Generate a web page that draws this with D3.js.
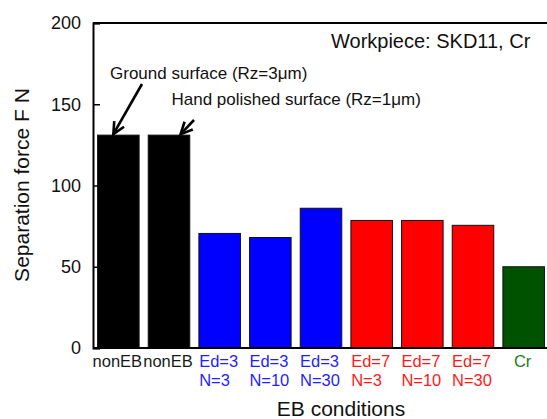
<!DOCTYPE html>
<html>
<head>
<meta charset="utf-8">
<script src="https://cdn.jsdelivr.net/npm/d3@7"></script>
<style>
  html, body { margin: 0; padding: 0; background: #fff; }
  svg { display: block; font-family: "Liberation Sans", Arial, sans-serif; }
</style>
</head>
<body>
<svg id="chart" width="547" height="419"></svg>
<script>
// Separation force for each EB (electron beam) condition
const categories = ["nonEB-G", "nonEB-H", "Ed3N3", "Ed3N10", "Ed3N30", "Ed7N3", "Ed7N10", "Ed7N30", "Cr"];
const labelLines = [["nonEB"], ["nonEB"], ["Ed=3", "N=3"], ["Ed=3", "N=10"], ["Ed=3", "N=30"],
                    ["Ed=7", "N=3"], ["Ed=7", "N=10"], ["Ed=7", "N=30"], ["Cr"]];
const forces = [131, 131, 70.5, 68, 86, 78.5, 78.5, 75.5, 50];
const groups = ["none", "none", "ed3", "ed3", "ed3", "ed7", "ed7", "ed7", "cr"];
const yTicks = [0, 50, 100, 150, 200];

const barColor = { none: "#000000", ed3: "#0000ff", ed7: "#ff0000", cr: "#005200" };
const textColor = { none: "#1a1a1a", ed3: "#1f1fff", ed7: "#ff1a1a", cr: "#1d7a1d" };

const svg = d3.select("#chart");
const plotLeft = 93, plotRight = 549, plotTop = 23, plotBottom = 348;

const x = d3.scaleBand().domain(categories).range([plotLeft, plotRight])
  .paddingInner(0.18).paddingOuter(0.09);
const y = d3.scaleLinear().domain([0, 200]).range([plotBottom, plotTop]);

// bars
svg.append("g").selectAll("rect").data(categories).join("rect")
  .attr("x", d => x(d))
  .attr("y", (d, i) => y(forces[i]))
  .attr("width", x.bandwidth())
  .attr("height", (d, i) => y(0) - y(forces[i]))
  .attr("fill", (d, i) => barColor[groups[i]])
  .attr("stroke", "#111")
  .attr("stroke-width", 1);

// frame: left axis, top and bottom lines
svg.append("line").attr("x1", plotLeft).attr("x2", 547).attr("y1", plotTop).attr("y2", plotTop)
  .attr("stroke", "#000").attr("stroke-width", 2);
svg.append("line").attr("x1", plotLeft).attr("x2", 547).attr("y1", plotBottom).attr("y2", plotBottom)
  .attr("stroke", "#000").attr("stroke-width", 2);

const yAxis = svg.append("g").attr("transform", `translate(${plotLeft},0)`)
  .call(d3.axisLeft(y).tickValues(yTicks).tickSize(-7).tickPadding(12));
yAxis.select(".domain").attr("stroke-width", 2);
yAxis.selectAll(".tick line").attr("stroke-width", 1.5);
yAxis.selectAll(".tick text")
  .attr("font-size", 18).attr("fill", "#111")
  .attr("font-family", "Liberation Sans, Arial, sans-serif");

// category labels under bars: block centred on the bar, lines left aligned
const lab = svg.append("g").attr("font-size", 16.5);
categories.forEach((c, i) => {
  const t = lab.append("text").attr("fill", textColor[groups[i]]);
  const spans = labelLines[i].map((s, k) =>
    t.append("tspan").attr("y", 366.5 + k * 19).text(s));
  const w = d3.max(spans, s => s.node().getComputedTextLength());
  const x0 = x(c) + x.bandwidth() / 2 - w / 2 - 1;
  spans.forEach(s => s.attr("x", x0));
});

// axis titles
svg.append("text").attr("x", 341).attr("y", 415.5).attr("text-anchor", "middle")
  .attr("font-size", 21).attr("fill", "#111").text("EB conditions");
svg.append("text").attr("transform", "translate(28.5,185) rotate(-90)")
  .attr("text-anchor", "middle").attr("font-size", 21).attr("fill", "#111")
  .text("Separation force F N");

// annotation
svg.append("text").attr("x", 331).attr("y", 48).attr("font-size", 20).attr("fill", "#111")
  .text("Workpiece: SKD11, Cr");

svg.append("text").attr("x", 110).attr("y", 79).attr("font-size", 17).attr("fill", "#111")
  .text("Ground surface (Rz=3\u03bcm)");
svg.append("text").attr("x", 171.5).attr("y", 105).attr("font-size", 17).attr("fill", "#111")
  .text("Hand polished surface (Rz=1\u03bcm)");

// arrows pointing at the tops of the two nonEB bars
function arrow(x1, y1, x2, y2) {
  const g = svg.append("g").attr("stroke", "#000").attr("fill", "none")
    .attr("stroke-width", 2.6).attr("stroke-linecap", "butt");
  g.append("line").attr("x1", x1).attr("y1", y1).attr("x2", x2).attr("y2", y2);
  const a = Math.atan2(y2 - y1, x2 - x1), L = 13, s = 0.45;
  g.append("path").attr("stroke-linejoin", "miter")
    .attr("d", `M${x2 - L * Math.cos(a - s)},${y2 - L * Math.sin(a - s)}L${x2},${y2}L${x2 - L * Math.cos(a + s)},${y2 - L * Math.sin(a + s)}`);
}
arrow(142, 84, x(categories[0]) + x.bandwidth() * 0.38, y(forces[0]) - 1);
arrow(194, 120, x(categories[1]) + x.bandwidth() * 0.78, y(forces[1]) - 1);
</script>
</body>
</html>
